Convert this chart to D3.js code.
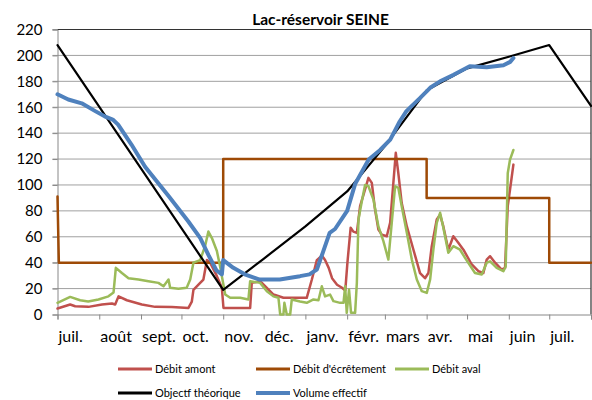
<!DOCTYPE html>
<html>
<head>
<meta charset="utf-8">
<script src="https://cdn.jsdelivr.net/npm/d3@7"></script>
<style>
  body { margin: 0; background: #fff; }
  text { font-family: Lato, "Open Sans", sans-serif; fill: #000; }
</style>
</head>
<body>
<div id="chart"></div>
<script>
// jours comptés depuis le 1er juillet 2012
var months = ["juil.", "août", "sept.", "oct.", "nov.", "déc.", "janv.", "févr.", "mars", "avr.", "mai", "juin", "juil."];
var yTicks = [0, 20, 40, 60, 80, 100, 120, 140, 160, 180, 200, 220];

var amontDays = [0, 9.4, 13.1, 23, 33, 40.4, 42.8, 45.3, 51.5, 62.6, 72.5, 84.9, 97.2, 99.7, 100.9, 105.9, 108.3, 110.9, 113.3, 118.3, 122, 123.2, 143, 144.2, 150.4, 155.4, 160.3, 167.7, 185, 188.8, 192.5, 196.2, 198.6, 201.3, 203.8, 207.5, 211.2, 213.6, 215.2, 217.6, 219.6, 222.2, 224.6, 228.3, 230.8, 233.3, 235.7, 238.2, 240.7, 244.4, 246.9, 249.3, 251.1, 253, 255.5, 259.3, 264.2, 269.1, 272.8, 275.3, 277.8, 281.5, 284, 286.4, 290.1, 293.8, 297.5, 301.3, 307.5, 312.4, 316.1, 318.6, 321.1, 324.8, 329.7, 332.2, 334.2, 335.9, 338.4];
var amontValues = [4.6, 7.7, 6.4, 5.9, 7.7, 8.5, 7.7, 14, 11, 7.7, 5.9, 5.7, 5.1, 10, 19, 24.4, 27, 42, 40, 29.6, 20.6, 5, 5, 24.4, 25.7, 20.6, 15.4, 12.9, 12.9, 27, 42, 45.5, 42, 36, 28, 23, 20.6, 18.5, 40, 67, 64, 63, 83.6, 96.5, 105.5, 101.6, 81, 65.6, 61.7, 60.4, 70.8, 101.6, 124.8, 109, 86, 68, 50, 32, 28, 32, 52.7, 73.3, 77, 68, 50, 60.4, 55.3, 50, 38.6, 33.4, 32, 42.4, 45, 40, 34.7, 36, 83.6, 96.5, 115.7];

var ecretementDays = [0, 1, 123, 123, 274, 274, 365, 365, 396];
var ecretementValues = [91, 40, 40, 120, 120, 90, 90, 40, 40];

var avalDays = [0, 9.4, 16.8, 22.8, 30.4, 37.8, 41.6, 43.3, 47.8, 52.7, 60.1, 67.5, 74.9, 78.7, 82.4, 83.6, 89.8, 95.9, 98.5, 100.9, 105.9, 109.6, 112, 114.6, 118.3, 120.7, 122, 124.5, 128.2, 135.6, 141.7, 143, 150.4, 155.4, 160.3, 164, 165.3, 167.7, 168.4, 170.2, 172.7, 173.9, 180, 185, 190, 193.7, 196.2, 198.6, 202.3, 204.8, 209.8, 212.3, 213.5, 214.7, 216.4, 217.9, 220.9, 222.2, 223.4, 225.9, 228.3, 230.8, 234.5, 238.2, 241.9, 245.6, 248.1, 250.6, 253, 255.5, 259.3, 263, 266.7, 270.4, 274.1, 276.6, 279, 281.5, 284, 286.4, 290.1, 293.8, 298.8, 302.5, 309.9, 314.9, 318.6, 321.1, 326, 331, 332.7, 334.2, 335.9, 338.4];
var avalValues = [9, 13.6, 11, 10, 11.6, 14, 17, 36, 32, 28, 27, 25.7, 24.4, 21.8, 27, 20.6, 19.8, 20.6, 27, 40, 42, 53, 64, 59, 49, 37, 29.6, 15.4, 12.9, 12.9, 11.6, 25.7, 24.4, 18, 14, 12.9, 0, 0, 9, 0, 0, 11.6, 10, 9, 11.6, 11, 21.8, 14, 15.4, 10.3, 9, 9, 21.8, 1.3, 19.3, 1.3, 1.3, 24.4, 73.3, 87.4, 100, 99, 88.7, 68, 56.6, 42.4, 70.8, 99, 97.7, 83.6, 63, 42.4, 27, 18, 16.7, 27, 50, 70.8, 78.5, 67, 47.6, 52.7, 50, 43.7, 32, 30.9, 40, 41, 36, 33.4, 37, 109, 119.6, 127];

var objectifDays = [0, 123, 153, 184, 215, 243, 274, 304, 335, 365, 396];
var objectifValues = [208, 19, 43, 68, 95, 130, 173, 190, 199, 208, 161];

var volumeDays = [0, 8, 18, 28, 35, 41, 45, 55, 65, 82, 97, 106, 112, 118, 122, 123, 130.5, 139, 150, 165, 180, 187, 192.5, 197, 202, 206, 215, 221, 231, 239.5, 247, 254, 259, 269, 276.6, 284, 294, 306, 318.6, 331, 336, 338.4];
var volumeValues = [170, 166, 163, 157, 153, 150.5, 146.6, 131, 114, 92, 72, 59, 46, 34, 31, 42, 36, 31, 27, 27, 29.6, 31, 34.7, 48, 63, 66, 80, 101, 119.6, 127, 135, 149, 157, 167, 175, 180, 185, 191.6, 190.9, 192.4, 195, 198];

var width = 592, height = 400;
var plotLeft = 57.5, plotRight = 591, plotTop = 29.5, plotBottom = 314.5;

var start = new Date(Date.UTC(2012, 6, 1)),
    end = new Date(Date.UTC(2013, 7, 1));

function dayToDate(d) { return new Date(start.getTime() + d * 864e5); }

var x = d3.scaleUtc().domain([start, end]).range([plotLeft, plotRight]);
var y = d3.scaleLinear().domain([0, 220]).range([plotBottom, plotTop]);

var svg = d3.select("#chart").append("svg")
    .attr("width", width)
    .attr("height", height);

// grille
svg.append("g")
    .selectAll("line")
    .data(yTicks.slice(1))
  .enter().append("line")
    .attr("x1", plotLeft - 5).attr("x2", plotRight)
    .attr("y1", d => y(d)).attr("y2", d => y(d))
    .attr("stroke", "#a0a0a0")
    .attr("stroke-width", 1);

// cadre haut / droite
svg.append("path")
    .attr("d", `M${plotLeft},${plotTop}H${plotRight}V${plotBottom}`)
    .attr("fill", "none")
    .attr("stroke", "#333")
    .attr("stroke-width", 1.2);

// axe Y
var yAxis = svg.append("g")
    .attr("transform", `translate(${plotLeft},0)`)
    .call(d3.axisLeft(y).tickValues(yTicks).tickSize(5).tickPadding(10));
yAxis.select(".domain").attr("stroke", "#888");
yAxis.selectAll(".tick line").attr("stroke", "#888");
yAxis.selectAll(".tick text").style("font-size", "15px").attr("fill", "#000")
    .style("font-family", "Lato, 'Open Sans', sans-serif");

// axe X
var monthTicks = d3.utcMonth.range(start, d3.utcDay.offset(end, 1));
var xAxis = svg.append("g")
    .attr("transform", `translate(0,${plotBottom})`)
    .call(d3.axisBottom(x).tickValues(monthTicks).tickSize(5).tickFormat(""));
xAxis.select(".domain").attr("stroke", "#888");
xAxis.selectAll(".tick line").attr("stroke", "#888");

svg.append("g")
    .selectAll("text")
    .data(months)
  .enter().append("text")
    .attr("x", (d, i) => x(monthTicks[i]) + 1)
    .attr("y", 342)
    .style("font-size", "16px")
    .text(d => d);

// séries
var line = d3.line()
    .x(d => x(dayToDate(d[0])))
    .y(d => y(d[1]));

var series = [
  {name: "Débit amont", days: amontDays, values: amontValues, color: "#c0504d", w: 2.5},
  {name: "Débit d'écrêtement", days: ecretementDays, values: ecretementValues, color: "#9e4a06", w: 2.5},
  {name: "Débit aval", days: avalDays, values: avalValues, color: "#9bbb59", w: 2.5},
  {name: "Objectf théorique", days: objectifDays, values: objectifValues, color: "#000", w: 2.2},
  {name: "Volume effectif", days: volumeDays, values: volumeValues, color: "#4f81bd", w: 4}
];

series.forEach(function(s) {
  svg.append("path")
      .datum(d3.zip(s.days, s.values))
      .attr("fill", "none")
      .attr("stroke", s.color)
      .attr("stroke-width", s.w)
      .attr("stroke-linejoin", "round")
      .attr("stroke-linecap", "round")
      .attr("d", line);
});

// titre
svg.append("text")
    .attr("x", 320.5)
    .attr("y", 25)
    .attr("text-anchor", "middle")
    .style("font-size", "15.5px")
    .style("font-weight", "bold")
    .text("Lac-réservoir SEINE");

// légende
var legendPos = [[118, 369], [256, 369], [395, 369], [118, 393], [256, 393]];
var legend = svg.append("g")
    .selectAll("g")
    .data(series)
  .enter().append("g")
    .attr("transform", (d, i) => `translate(${legendPos[i][0]},${legendPos[i][1]})`);

legend.append("line")
    .attr("x1", 0).attr("x2", 34)
    .attr("stroke", d => d.color)
    .attr("stroke-width", d => d.w === 4 ? 4 : 3);

legend.append("text")
    .attr("x", 37)
    .attr("y", 4)
    .style("font-size", "11px")
    .attr("fill", "#222")
    .text(d => d.name);
</script>
</body>
</html>
